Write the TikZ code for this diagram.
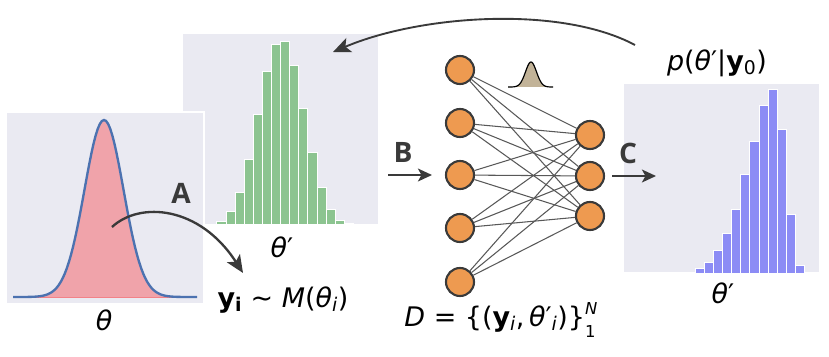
\documentclass[tikz,border=0pt]{standalone}
\usepackage{fontspec}
\setmainfont{DejaVu Sans}
\newfontfamily\lblfont{Open Sans}
\usetikzlibrary{arrows.meta}

\definecolor{panelbg}{HTML}{EAEAF2}
\definecolor{greenbar}{HTML}{8CC490}
\definecolor{bluebar}{HTML}{8C8CF5}
\definecolor{pinkfill}{HTML}{F0A3AA}
\definecolor{curveblue}{HTML}{4C72B0}
\definecolor{neuronfill}{HTML}{EE9A50}
\definecolor{icontan}{HTML}{C2B398}
\definecolor{darkink}{HTML}{3A3A3A}

\newcommand{\tsub}[1]{\textsubscript{#1}}
\newcommand{\stackidx}[2]{\rlap{\raisebox{0.8ex}{\fontsize{14}{14}\selectfont #1}}\raisebox{-0.75ex}{\fontsize{14}{14}\selectfont #2}}

\begin{document}
\begin{tikzpicture}[x=0.03cm,y=-0.03cm,
    panel/.style={fill=panelbg,draw=white,line width=1.2pt},
    bar/.style={draw=white,line width=0.5pt},
    neuron/.style={circle,draw=darkink,fill=neuronfill,line width=1.8pt,minimum size=0.84cm,inner sep=0pt},
    wire/.style={draw=darkink!85,line width=0.9pt},
    bigarrow/.style={draw=darkink,line width=2pt,-{Stealth[length=15pt,width=13pt,inset=3.5pt]}},
    smallarrow/.style={draw=darkink,line width=1.7pt,-{Stealth[length=12pt,width=11pt,inset=3pt]}},
    letter/.style={font=\lblfont\bfseries\fontsize{24}{26}\selectfont,text=darkink},
    mathlbl/.style={font=\fontsize{23}{26}\selectfont,text=black}]

\useasboundingbox (0,0) rectangle (829,356);

% prior sample histogram
\fill[panel] (182,33) rectangle (379,225);
\foreach \h [count=\k from 0] in {2.7,12.7,31.7,65,109.7,152.3,179.7,182.3,158.3,115.7,71.7,36.3,15,3.7,0.8}
  \filldraw[bar,fill=greenbar] ({216.7+9.1*\k},224) rectangle ++(9.1,-\h);
\node[mathlbl] (thgreen) at (282,247) {\textit{θ}′};

% prior density
\filldraw[panel] (6,112) rectangle (204,304);
\fill[pinkfill] plot[domain=13:197,samples=90] (\x,{297-177*exp(-((\x-104)^2)/(2*19.5^2))}) -- cycle;
\draw[pinkfill!80!red,line width=0.8pt] (13,297) -- (197,297);
\draw[curveblue,line width=2pt] plot[domain=13:197,samples=90] (\x,{297-177*exp(-((\x-104)^2)/(2*19.5^2))});
\node[mathlbl] (thprior) at (104,320) {\textit{θ}};

% posterior histogram
\fill[panel] (623,83) rectangle (820,273);
\foreach \h [count=\k from 0] in {1,4.7,10.3,22.3,40,64,98.3,131.7,167.7,183.3,144,58.3,7.3}
  \filldraw[bar,fill=bluebar] ({686+9.1*\k},273) rectangle ++(9.1,-\h);
\node[mathlbl] (thpost) at (723,293) {\textit{θ}′};
\node[mathlbl] (postlbl) at (717,63) {\textit{p}(\textit{θ}′|\textbf{y}\tsub{0})};

% network
\node[neuron] (i1) at (460,70) {};
\node[neuron] (i2) at (460,123) {};
\node[neuron] (i3) at (460,175) {};
\node[neuron] (i4) at (460,228) {};
\node[neuron] (i5) at (460,282) {};
\node[neuron] (o1) at (590,135) {};
\node[neuron] (o2) at (590,176) {};
\node[neuron] (o3) at (590,216) {};
\foreach \a in {i1,i2,i3,i4,i5}
  \foreach \b in {o1,o2,o3}
    \draw[wire] (\a) -- (\b);

\filldraw[fill=icontan,draw=black,line width=1pt] plot[domain=508:553,samples=60] (\x,{87-25*exp(-((\x-531)^2)/(2*5.5^2))});

% labels
\node[mathlbl] (simlbl) at (283,300) {\textbf{y\tsub{i}} ∼ \textit{M}(\textit{θ}\tsub{\textit{i}})};
\node[mathlbl] (datalbl) at (500,320) {\textit{D} = \{(\textbf{y}\tsub{\textit{i}},\,\textit{θ}′\tsub{\textit{i}})\}\stackidx{\textit{N}}{1}};
\node[letter] (lA) at (181,193) {A};
\node[letter] (lB) at (403,152) {B};
\node[letter] (lC) at (628,153) {C};

% arrows
\coordinate (aS) at (112,227);
\coordinate (aE) at (243,273);
\coordinate (bS) at (388,175);
\coordinate (bE) at (432,175);
\coordinate (cS) at (612,176);
\coordinate (cE) at (656,176);
\coordinate (pS) at (635,45);
\coordinate (pE) at (333,52);
\draw[bigarrow] (aS) .. controls (140,201) and (200,206) .. (aE);
\draw[smallarrow] (bS) -- (bE);
\draw[smallarrow] (cS) -- (cE);
\draw[bigarrow,line width=1.6pt] (pS) .. controls (560,5) and (420,15) .. (pE);
\end{tikzpicture}
\end{document}
